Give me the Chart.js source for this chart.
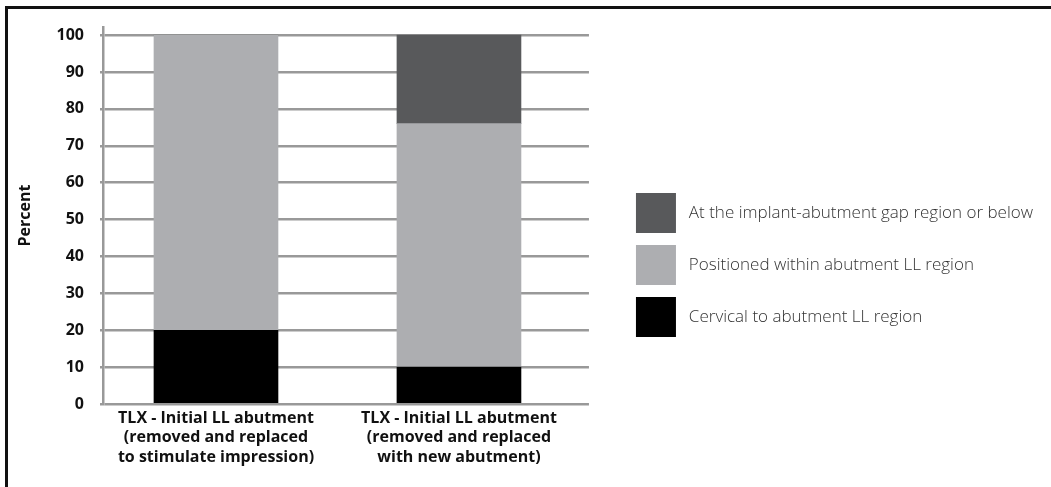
<!DOCTYPE html>
<html>
<head>
<meta charset="utf-8">
<script src="https://cdn.jsdelivr.net/npm/chart.js@4"></script>
<style>
  html, body { margin: 0; padding: 0; background: #fff; overflow: hidden; }
  #frame { position: absolute; left: 5px; top: 6px; width: 1046px; height: 481px;
           border-top: 3px solid #111; border-left: 3px solid #111; }
  #wrap { position: absolute; left: 0; top: 0; width: 1043px; height: 478px; }
</style>
</head>
<body>
<div id="frame"><div id="wrap"><canvas id="c"></canvas></div></div>
<script>
const categories = [
  ["TLX - Initial LL abutment", "(removed and replaced", "to stimulate impression)"],
  ["TLX - Initial LL abutment", "(removed and replaced", "with new abutment)"]
];
const seriesNames = [
  "Cervical to abutment LL region",
  "Positioned within abutment LL region",
  "At the implant-abutment gap region or below"
];
const cervical = [20, 10];
const withinRegion = [80, 66];
const gapRegion = [0, 24];
const yTicks = [0, 10, 20, 30, 40, 50, 60, 70, 80, 90, 100];
const yAxisTitle = "Percent";

const colors = ["#000000", "#adaeb1", "#58595b"];
const seriesValues = [cervical, withinRegion, gapRegion];

const boldFont = { family: "'Open Sans', sans-serif", size: 16, weight: "bold", lineHeight: 1.2 };

new Chart(document.getElementById("c"), {
  type: "bar",
  data: {
    labels: categories,
    datasets: seriesNames.map((name, i) => ({
      label: name,
      data: seriesValues[i],
      backgroundColor: colors[i],
      borderWidth: 0,
      barThickness: 124
    }))
  },
  options: {
    responsive: true,
    maintainAspectRatio: false,
    animation: false,
    layout: { padding: { top: 18, right: 8, bottom: 0, left: 0 } },
    plugins: {
      tooltip: { enabled: false },
      legend: {
        position: "right",
        reverse: true,
        maxWidth: 470,
        title: { display: true, text: " ", font: { size: 13.2 }, padding: 0 },
        labels: {
          boxWidth: 40,
          boxHeight: 40,
          padding: 12,
          color: "#333333",
          font: { family: "'Open Sans', sans-serif", size: 17, weight: 300 },
          generateLabels: (chart) => Chart.defaults.plugins.legend.labels.generateLabels(chart)
            .map(item => Object.assign(item, { text: " " + item.text }))
        }
      }
    },
    scales: {
      x: {
        stacked: true,
        grid: { display: false, drawTicks: false },
        border: { display: false },
        afterDataLimits: (s) => { s.min = 0.035; },
        afterBuildTicks: (s) => { s.ticks = categories.map((c, i) => ({ value: i })); },
        afterFit: (s) => { s.height = 83; },
        ticks: { color: "#111", font: boldFont, padding: 5, maxRotation: 0, autoSkip: false }
      },
      y: {
        stacked: true,
        min: 0,
        max: 102.2,
        afterBuildTicks: (s) => { s.ticks = yTicks.map(v => ({ value: v })); },
        afterFit: (s) => { s.width = 95; s.paddingTop = 0; },
        grid: { color: "#999999", lineWidth: 2.5, tickLength: 3 },
        border: { color: "#999999", width: 2.5 },
        ticks: { color: "#111", font: boldFont, padding: 16 },
        title: { display: true, text: yAxisTitle, color: "#111", font: boldFont, padding: { top: 8, bottom: 0 } }
      },
      gap: {
        type: "linear",
        position: "right",
        display: true,
        grid: { display: false, drawTicks: false },
        border: { display: false },
        ticks: { display: false },
        afterFit: (s) => { s.width = 35; s.paddingTop = 0; s.paddingBottom = 0; }
      }
    }
  }
});
</script>
</body>
</html>
